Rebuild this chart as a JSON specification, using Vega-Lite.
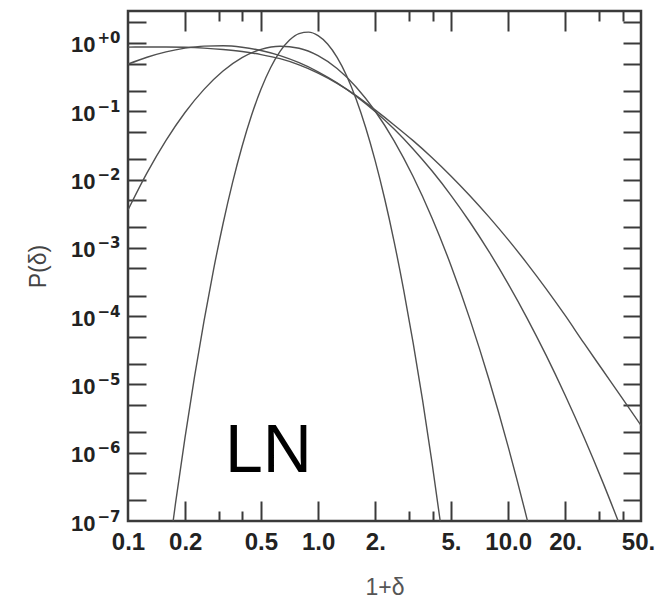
{
  "$schema": "https://vega.github.io/schema/vega-lite/v6.json",
  "autosize": "none",
  "width": 513,
  "height": 510,
  "padding": {"left": 128, "top": 11, "right": 15, "bottom": 78},
  "background": "white",
  "config": {
    "font": "Liberation Sans",
    "view": {"stroke": "#3a3a3a", "strokeWidth": 2.5}
  },
  "datasets": {
    "curves": [
      {"x": 0.1585, "y": 1.66e-8, "curve": "A"},
      {"x": 0.1778, "y": 1.807e-7, "curve": "A"},
      {"x": 0.1995, "y": 1.663e-6, "curve": "A"},
      {"x": 0.2239, "y": 1.297e-5, "curve": "A"},
      {"x": 0.2512, "y": 8.55e-5, "curve": "A"},
      {"x": 0.2818, "y": 4.775e-4, "curve": "A"},
      {"x": 0.3162, "y": 2.254e-3, "curve": "A"},
      {"x": 0.3548, "y": 9.016e-3, "curve": "A"},
      {"x": 0.3981, "y": 0.03048, "curve": "A"},
      {"x": 0.4467, "y": 0.0873, "curve": "A"},
      {"x": 0.5012, "y": 0.2113, "curve": "A"},
      {"x": 0.5623, "y": 0.4335, "curve": "A"},
      {"x": 0.631, "y": 0.7516, "curve": "A"},
      {"x": 0.7079, "y": 1.104, "curve": "A"},
      {"x": 0.7943, "y": 1.371, "curve": "A"},
      {"x": 0.8913, "y": 1.44, "curve": "A"},
      {"x": 1.0, "y": 1.282, "curve": "A"},
      {"x": 1.122, "y": 0.966, "curve": "A"},
      {"x": 1.259, "y": 0.6152, "curve": "A"},
      {"x": 1.413, "y": 0.3319, "curve": "A"},
      {"x": 1.585, "y": 0.1514, "curve": "A"},
      {"x": 1.778, "y": 0.05848, "curve": "A"},
      {"x": 1.995, "y": 0.0191, "curve": "A"},
      {"x": 2.239, "y": 5.284e-3, "curve": "A"},
      {"x": 2.512, "y": 1.236e-3, "curve": "A"},
      {"x": 2.818, "y": 2.449e-4, "curve": "A"},
      {"x": 3.162, "y": 4.102e-5, "curve": "A"},
      {"x": 3.548, "y": 5.821e-6, "curve": "A"},
      {"x": 3.981, "y": 6.982e-7, "curve": "A"},
      {"x": 4.467, "y": 7.096e-8, "curve": "A"},
      {"x": 5.012, "y": 6.095e-9, "curve": "A"},

      {"x": 0.1, "y": 3.589e-3, "curve": "B"},
      {"x": 0.1259, "y": 0.01251, "curve": "B"},
      {"x": 0.1585, "y": 0.03744, "curve": "B"},
      {"x": 0.1995, "y": 0.09588, "curve": "B"},
      {"x": 0.2512, "y": 0.2092, "curve": "B"},
      {"x": 0.3162, "y": 0.3879, "curve": "B"},
      {"x": 0.3981, "y": 0.6089, "curve": "B"},
      {"x": 0.5012, "y": 0.8062, "curve": "B"},
      {"x": 0.631, "y": 0.8978, "curve": "B"},
      {"x": 0.7943, "y": 0.8375, "curve": "B"},
      {"x": 1.0, "y": 0.6523, "curve": "B"},
      {"x": 1.259, "y": 0.4228, "curve": "B"},
      {"x": 1.585, "y": 0.2272, "curve": "B"},
      {"x": 1.995, "y": 0.1009, "curve": "B"},
      {"x": 2.512, "y": 0.03689, "curve": "B"},
      {"x": 3.162, "y": 0.01107, "curve": "B"},
      {"x": 3.981, "y": 2.716e-3, "curve": "B"},
      {"x": 5.012, "y": 5.433e-4, "curve": "B"},
      {"x": 6.31, "y": 8.822e-5, "curve": "B"},
      {"x": 7.943, "y": 1.16e-5, "curve": "B"},
      {"x": 10.0, "y": 1.229e-6, "curve": "B"},
      {"x": 12.59, "y": 1.047e-7, "curve": "B"},
      {"x": 15.85, "y": 7.147e-9, "curve": "B"},

      {"x": 0.1, "y": 0.4904, "curve": "C"},
      {"x": 0.1259, "y": 0.6189, "curve": "C"},
      {"x": 0.1585, "y": 0.741, "curve": "C"},
      {"x": 0.1995, "y": 0.84, "curve": "C"},
      {"x": 0.2512, "y": 0.9003, "curve": "C"},
      {"x": 0.3162, "y": 0.9106, "curve": "C"},
      {"x": 0.3981, "y": 0.8673, "curve": "C"},
      {"x": 0.5012, "y": 0.7766, "curve": "C"},
      {"x": 0.631, "y": 0.6528, "curve": "C"},
      {"x": 0.7943, "y": 0.514, "curve": "C"},
      {"x": 1.0, "y": 0.3784, "curve": "C"},
      {"x": 1.259, "y": 0.2601, "curve": "C"},
      {"x": 1.585, "y": 0.1665, "curve": "C"},
      {"x": 1.995, "y": 0.09917, "curve": "C"},
      {"x": 2.512, "y": 0.05483, "curve": "C"},
      {"x": 3.162, "y": 0.02809, "curve": "C"},
      {"x": 3.981, "y": 0.01332, "curve": "C"},
      {"x": 5.012, "y": 5.832e-3, "curve": "C"},
      {"x": 6.31, "y": 2.351e-3, "curve": "C"},
      {"x": 7.943, "y": 8.728e-4, "curve": "C"},
      {"x": 10.0, "y": 2.975e-4, "curve": "C"},
      {"x": 12.59, "y": 9.296e-5, "curve": "C"},
      {"x": 15.85, "y": 2.659e-5, "curve": "C"},
      {"x": 19.95, "y": 6.944e-6, "curve": "C"},
      {"x": 25.12, "y": 1.654e-6, "curve": "C"},
      {"x": 31.62, "y": 3.586e-7, "curve": "C"},
      {"x": 39.81, "y": 7.063e-8, "curve": "C"},

      {"x": 0.1, "y": 0.871, "curve": "D"},
      {"x": 0.1259, "y": 0.875, "curve": "D"},
      {"x": 0.1585, "y": 0.875, "curve": "D"},
      {"x": 0.1995, "y": 0.865, "curve": "D"},
      {"x": 0.2512, "y": 0.8414, "curve": "D"},
      {"x": 0.3162, "y": 0.8035, "curve": "D"},
      {"x": 0.3981, "y": 0.7499, "curve": "D"},
      {"x": 0.5012, "y": 0.6761, "curve": "D"},
      {"x": 0.631, "y": 0.5888, "curve": "D"},
      {"x": 0.7943, "y": 0.4786, "curve": "D"},
      {"x": 1.0, "y": 0.3631, "curve": "D"},
      {"x": 1.259, "y": 0.257, "curve": "D"},
      {"x": 1.585, "y": 0.1698, "curve": "D"},
      {"x": 1.995, "y": 0.1047, "curve": "D"},
      {"x": 2.512, "y": 0.0631, "curve": "D"},
      {"x": 3.162, "y": 0.03715, "curve": "D"},
      {"x": 3.981, "y": 0.02089, "curve": "D"},
      {"x": 5.012, "y": 0.01122, "curve": "D"},
      {"x": 6.31, "y": 5.754e-3, "curve": "D"},
      {"x": 7.943, "y": 2.818e-3, "curve": "D"},
      {"x": 10.0, "y": 1.318e-3, "curve": "D"},
      {"x": 12.59, "y": 5.888e-4, "curve": "D"},
      {"x": 15.85, "y": 2.512e-4, "curve": "D"},
      {"x": 19.95, "y": 1.023e-4, "curve": "D"},
      {"x": 25.12, "y": 3.981e-5, "curve": "D"},
      {"x": 31.62, "y": 1.585e-5, "curve": "D"},
      {"x": 39.81, "y": 6.31e-6, "curve": "D"},
      {"x": 50.0, "y": 2.512e-6, "curve": "D"}
    ],
    "label": [
      {"x": 0.324, "y": 5.24e-7, "text": "LN"}
    ]
  },
  "resolve": {"axis": {"x": "independent", "y": "independent"}},
  "layer": [
    {
      "data": {"name": "curves"},
      "mark": {"type": "line", "clip": true, "interpolate": "monotone", "stroke": "#505050", "strokeWidth": 1.4},
      "encoding": {
        "x": {
          "field": "x", "type": "quantitative",
          "scale": {"type": "log", "domain": [0.1, 50], "nice": false},
          "axis": {
            "orient": "bottom",
            "values": [0.1, 0.2, 0.5, 1, 2, 5, 10, 20, 50],
            "labelExpr": "datum.value == 1 ? '1.0' : datum.value == 10 ? '10.0' : datum.value < 1 ? format(datum.value, '.1f') : format(datum.value, 'd') + '.'",
            "ticks": false, "domain": false, "grid": false,
            "labelFont": "Liberation Sans", "labelFontWeight": "bold", "labelFontSize": 24,
            "labelColor": "#222222", "labelPadding": 9, "labelOverlap": false, "labelFlush": false, "labelBound": false,
            "labelOffset": {"condition": {"test": "datum.value >= 40", "value": -3}, "value": 0},
            "title": "1+δ", "titleFont": "Liberation Sans", "titleFontSize": 23, "titleFontWeight": "normal",
            "titleColor": "#555555", "titlePadding": 22
          }
        },
        "y": {
          "field": "y", "type": "quantitative",
          "scale": {"type": "log", "domain": [1e-7, 2.94], "nice": false},
          "axis": {
            "orient": "left",
            "values": [1, 0.1, 0.01, 0.001, 0.0001, 0.00001, 0.000001, 0.0000001],
            "labelExpr": "'10'",
            "ticks": false, "domain": false, "grid": false,
            "labelFont": "Liberation Sans", "labelFontWeight": "bold", "labelFontSize": 22,
            "labelColor": "#222222", "labelPadding": 33, "labelOffset": 2, "labelOverlap": false, "labelBound": false,
            "title": "P(δ)", "titleFont": "Liberation Sans", "titleFontSize": 23, "titleFontWeight": "normal",
            "titleColor": "#444444", "titlePadding": 20
          }
        },
        "detail": {"field": "curve", "type": "nominal"}
      }
    },
    {
      "data": {"name": "label"},
      "mark": {"type": "text", "align": "left", "baseline": "alphabetic", "font": "Liberation Sans", "fontSize": 68, "fontWeight": "normal", "color": "#000000"},
      "encoding": {
        "x": {
          "field": "x", "type": "quantitative",
          "scale": {"type": "log", "domain": [0.1, 50], "nice": false},
          "axis": {
            "orient": "top", "values": [0.2, 0.5, 1, 2, 5, 10, 20],
            "labels": false, "domain": false, "grid": false, "title": null,
            "tickSize": -20, "tickWidth": 2, "tickColor": "#3a3a3a"
          }
        },
        "y": {
          "field": "y", "type": "quantitative",
          "scale": {"type": "log", "domain": [1e-7, 2.94], "nice": false},
          "axis": {
            "orient": "right",
            "values": [2, 1, 0.5, 0.2, 0.1, 0.05, 0.02, 0.01, 0.005, 0.002, 0.001, 0.0005, 0.0002, 0.0001, 0.00005, 0.00002, 0.00001, 0.000005, 0.000002, 0.000001, 0.0000005, 0.0000002],
            "labels": false, "domain": false, "grid": false, "title": null,
            "tickSize": -18, "tickWidth": 2, "tickColor": "#3a3a3a"
          }
        },
        "text": {"field": "text", "type": "nominal"}
      }
    },
    {
      "data": {"name": "label"},
      "mark": {"type": "point", "opacity": 0},
      "encoding": {
        "x": {
          "field": "x", "type": "quantitative",
          "scale": {"type": "log", "domain": [0.1, 50], "nice": false},
          "axis": {
            "orient": "top", "values": [0.3, 0.4, 3, 4, 30, 40],
            "labels": false, "domain": false, "grid": false, "title": null,
            "tickSize": -10, "tickWidth": 2, "tickColor": "#3a3a3a"
          }
        },
        "y": {
          "field": "y", "type": "quantitative",
          "scale": {"type": "log", "domain": [1e-7, 2.94], "nice": false},
          "axis": {
            "orient": "left",
            "values": [2, 1, 0.5, 0.2, 0.1, 0.05, 0.02, 0.01, 0.005, 0.002, 0.001, 0.0005, 0.0002, 0.0001, 0.00005, 0.00002, 0.00001, 0.000005, 0.000002, 0.000001, 0.0000005, 0.0000002],
            "labels": false, "domain": false, "grid": false, "title": null,
            "tickSize": -18, "tickWidth": 2, "tickColor": "#3a3a3a"
          }
        }
      }
    },
    {
      "data": {"name": "label"},
      "mark": {"type": "point", "opacity": 0},
      "encoding": {
        "x": {
          "field": "x", "type": "quantitative",
          "scale": {"type": "log", "domain": [0.1, 50], "nice": false},
          "axis": {
            "orient": "bottom", "values": [0.2, 0.5, 1, 2, 5, 10, 20],
            "labels": false, "domain": false, "grid": false, "title": null,
            "tickSize": -20, "tickWidth": 2, "tickColor": "#3a3a3a"
          }
        },
        "y": {
          "field": "y", "type": "quantitative",
          "scale": {"type": "log", "domain": [1e-7, 2.94], "nice": false},
          "axis": {
            "orient": "left",
            "values": [1, 0.1, 0.01, 0.001, 0.0001, 0.00001, 0.000001, 0.0000001],
            "labelExpr": "datum.value >= 1 ? '+0' : '−' + format(round(-log(datum.value) / LN10), 'd')",
            "ticks": false, "domain": false, "grid": false, "title": null,
            "labelFont": "DejaVu Sans", "labelFontWeight": "bold", "labelFontSize": 15,
            "labelColor": "#222222", "labelPadding": 8, "labelOffset": -5, "labelOverlap": false, "labelBound": false
          }
        }
      }
    },
    {
      "data": {"name": "label"},
      "mark": {"type": "point", "opacity": 0},
      "encoding": {
        "x": {
          "field": "x", "type": "quantitative",
          "scale": {"type": "log", "domain": [0.1, 50], "nice": false},
          "axis": {
            "orient": "bottom", "values": [0.3, 0.4, 3, 4, 30, 40],
            "labels": false, "domain": false, "grid": false, "title": null,
            "tickSize": -10, "tickWidth": 2, "tickColor": "#3a3a3a"
          }
        },
        "y": {
          "field": "y", "type": "quantitative",
          "scale": {"type": "log", "domain": [1e-7, 2.94], "nice": false},
          "axis": null
        }
      }
    }
  ]
}
